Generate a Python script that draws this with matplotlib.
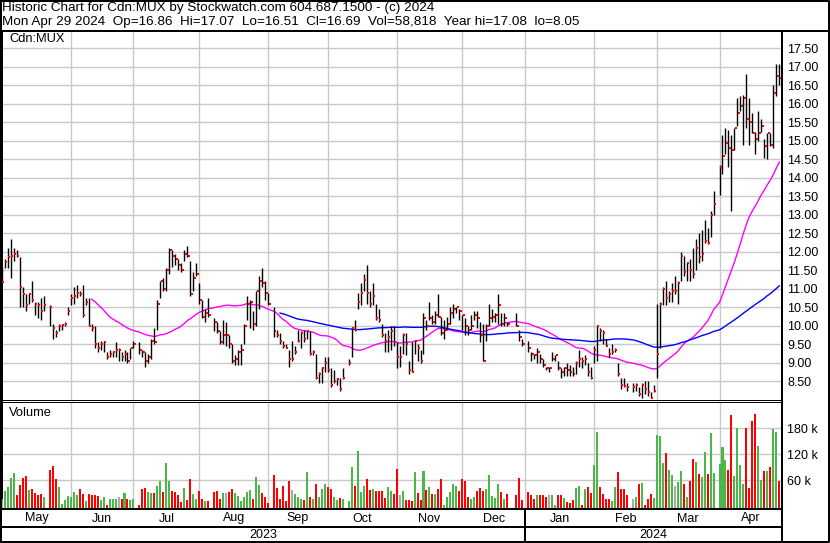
"""Stockwatch-style historic chart for Cdn:MUX (May 2023 - Apr 2024).

Daily high/low bars with red close ticks, 30- and 90-day moving averages
and a coloured volume panel. Saved as out.png (830x543 px).
"""

from __future__ import annotations

import matplotlib

matplotlib.use("Agg")

import matplotlib.pyplot as plt
import matplotlib.transforms as mtransforms
import numpy as np
import pandas as pd


OUTPUT_PNG = "out.png"

FIRST_WEEKDAY = "2023-05-01"
LAST_WEEKDAY = "2024-04-29"
HOLIDAYS = [
    "2023-05-22", "2023-07-03", "2023-08-07", "2023-09-04", "2023-10-09",
    "2023-12-25", "2023-12-26", "2024-01-01", "2024-02-19", "2024-03-29",
]

# One row per month, trading days only (May 2023 ... Apr 2024).
CLOSES = [
    11.18, 11.73, 11.85, 11.90, 11.95, 11.90, 11.05, 10.85, 10.55, 10.85, 10.70, 10.60, 10.55, 10.40, 10.55, 10.50, 9.95, 9.80, 10.00, 10.02, 10.05, 10.40,
    10.75, 10.80, 10.90, 10.85, 10.30, 10.65, 10.00, 9.95, 9.50, 9.40, 9.50, 9.55, 9.15, 9.25, 9.30, 9.35, 9.35, 9.15, 9.25, 9.05, 9.40, 9.50,
    9.35, 9.30, 9.05, 9.15, 9.60, 9.55, 10.60, 11.20, 11.00, 11.50, 12.05, 11.90, 11.80, 11.65, 11.50, 11.95, 11.90, 10.85, 11.30, 11.40,
    10.70, 10.25, 10.35, 10.30, 10.10, 9.85, 9.55, 9.75, 9.75, 9.50, 9.05, 9.10, 9.30, 9.35, 10.00, 10.60, 10.65, 10.05, 10.95, 11.20, 11.15, 10.90,
    10.60, 9.85, 9.75, 9.60, 9.45, 9.40, 9.10, 9.10, 9.30, 9.60, 9.80, 9.65, 9.85, 9.25, 9.30, 8.60, 8.70, 8.85, 9.00, 8.80,
    8.40, 8.50, 8.55, 8.30, 8.60, 9.00, 9.95, 9.90, 10.65, 10.90, 11.25, 10.90, 10.60, 10.80, 10.20, 10.15, 9.75, 9.60, 9.70, 9.85, 9.55,
    9.15, 9.15, 9.75, 9.50, 8.80, 8.75, 9.60, 9.40, 9.05, 10.20, 10.00, 10.20, 10.10, 10.30, 10.25, 9.80, 9.90, 10.05, 10.35, 10.45, 10.50, 10.40,
    10.30, 10.00, 9.90, 10.00, 10.30, 10.20, 9.75, 9.05, 10.00, 10.20, 10.25, 10.30, 10.55, 10.05, 10.20, 10.05, 10.00, 9.70, 9.50,
    9.40, 9.25, 9.20, 9.30, 9.10, 8.95, 8.85, 8.85, 9.10, 9.20, 8.85, 8.75, 8.85, 8.80, 8.75, 8.70, 9.00, 9.10, 9.05, 9.10, 8.75, 8.60,
    9.35, 10.00, 9.85, 9.80, 9.45, 9.25, 9.30, 9.35, 8.70, 8.40, 8.38, 8.35, 8.35, 8.40, 8.15, 8.40, 8.30, 8.20, 8.05, 8.25,
    9.25, 10.60, 11.00, 10.75, 10.85, 10.95, 10.95, 11.15, 11.90, 11.45, 11.70, 11.50, 11.40, 12.10, 11.85, 11.95, 12.30, 12.25, 13.00, 13.30,
    14.30, 14.60, 14.95, 14.80, 14.75, 15.35, 15.75, 15.95, 16.15, 15.60, 15.50, 15.20, 15.05, 15.20, 15.40, 14.85, 15.20, 14.90, 16.30, 16.75, 16.69,
]
HIGHS = [
    11.60, 11.80, 12.10, 12.35, 12.10, 12.05, 11.85, 11.05, 10.85, 10.90, 11.20, 10.65, 10.65, 10.75, 10.80, 10.55, 10.05, 9.90, 10.05, 10.05, 10.10, 10.50,
    10.85, 11.05, 11.10, 10.95, 11.10, 10.75, 10.75, 10.05, 10.00, 9.55, 9.60, 9.60, 9.30, 9.35, 9.30, 9.55, 9.40, 9.30, 9.35, 9.30, 9.40, 9.60,
    9.55, 9.35, 9.30, 9.25, 9.65, 9.95, 10.70, 11.20, 11.30, 11.55, 12.10, 12.05, 11.95, 11.80, 11.70, 12.05, 12.15, 11.75, 11.45, 11.70,
    11.15, 10.70, 10.45, 10.75, 10.20, 10.10, 9.85, 10.15, 10.10, 9.75, 9.50, 9.20, 9.35, 9.50, 10.05, 10.80, 10.70, 10.40, 10.95, 11.35, 11.55, 11.20,
    10.90, 10.50, 9.90, 9.80, 9.60, 9.50, 9.35, 9.60, 9.45, 9.90, 9.85, 9.90, 9.90, 9.85, 9.35, 9.25, 8.75, 8.90, 9.15, 9.15,
    8.85, 8.80, 8.60, 8.60, 8.85, 9.10, 9.95, 10.15, 10.90, 11.15, 11.40, 11.65, 10.95, 11.15, 10.60, 10.45, 10.05, 9.80, 9.90, 10.00, 10.00,
    9.55, 9.45, 9.80, 9.80, 9.05, 9.55, 9.60, 9.50, 9.35, 10.35, 10.15, 10.65, 10.30, 10.40, 10.85, 10.25, 10.15, 10.25, 10.50, 10.60, 10.50, 10.45,
    10.30, 10.20, 10.00, 10.30, 10.40, 10.40, 10.10, 10.05, 10.05, 10.60, 10.45, 10.35, 10.85, 10.35, 10.35, 10.10, 10.35, 9.90, 9.65,
    9.60, 9.30, 9.25, 9.40, 9.25, 9.10, 8.90, 8.90, 9.30, 9.20, 9.05, 8.85, 8.90, 9.00, 8.95, 8.90, 9.05, 9.35, 9.15, 9.20, 9.00, 8.90,
    9.45, 10.00, 9.95, 9.90, 9.65, 9.40, 9.50, 9.40, 9.00, 8.60, 8.60, 8.45, 8.45, 8.45, 8.35, 8.45, 8.50, 8.50, 8.20, 8.40,
    10.60, 10.65, 11.05, 11.20, 10.95, 11.15, 11.35, 11.20, 12.00, 11.90, 11.70, 11.80, 12.10, 12.35, 12.50, 12.60, 12.85, 12.65, 13.10, 13.65,
    14.35, 15.15, 15.35, 15.30, 15.15, 15.35, 16.15, 16.20, 16.25, 16.80, 16.15, 15.75, 15.25, 15.80, 15.60, 15.05, 15.20, 15.20, 16.50, 17.08, 17.07,
]
LOWS = [
    11.15, 11.55, 11.55, 11.30, 11.75, 11.85, 10.50, 10.50, 10.40, 10.60, 10.65, 10.30, 10.20, 10.15, 10.40, 10.00, 9.65, 9.70, 9.85, 9.90, 10.00, 10.30,
    10.55, 10.60, 10.75, 10.80, 10.25, 10.55, 10.00, 9.85, 9.40, 9.30, 9.35, 9.30, 9.10, 9.15, 9.15, 9.15, 9.05, 9.05, 9.05, 9.00, 9.10, 9.40,
    9.25, 9.15, 8.90, 9.00, 9.10, 9.50, 9.90, 10.75, 10.95, 10.95, 11.40, 11.60, 11.65, 11.50, 11.45, 11.75, 11.85, 10.80, 10.95, 11.35,
    10.60, 10.20, 10.10, 10.25, 9.85, 9.80, 9.50, 9.50, 9.45, 9.40, 9.00, 8.95, 8.95, 8.95, 9.50, 10.15, 9.95, 9.90, 10.00, 10.45, 11.05, 10.70,
    10.55, 9.70, 9.70, 9.50, 9.40, 9.40, 8.90, 9.05, 9.25, 9.55, 9.40, 9.55, 9.65, 9.20, 9.20, 8.55, 8.45, 8.45, 8.75, 8.75,
    8.35, 8.45, 8.40, 8.25, 8.55, 8.95, 9.15, 9.85, 10.45, 10.55, 10.95, 10.60, 10.50, 10.55, 10.15, 10.10, 9.70, 9.30, 9.30, 9.35, 9.45,
    8.85, 8.90, 9.25, 9.20, 8.70, 8.75, 9.25, 9.05, 9.00, 9.25, 9.90, 10.15, 10.05, 10.05, 10.25, 9.75, 9.65, 9.90, 10.05, 10.20, 10.35, 10.15,
    9.90, 9.75, 9.75, 9.90, 10.15, 9.95, 9.55, 9.05, 9.60, 10.00, 10.10, 10.10, 10.05, 10.00, 10.00, 10.00, 10.00, 9.60, 9.45,
    9.30, 9.05, 9.10, 9.00, 9.00, 8.90, 8.80, 8.75, 9.05, 9.05, 8.80, 8.60, 8.65, 8.65, 8.65, 8.65, 8.70, 8.90, 8.85, 8.95, 8.65, 8.55,
    9.00, 9.05, 9.60, 9.50, 9.45, 9.15, 9.25, 9.30, 8.65, 8.30, 8.35, 8.25, 8.20, 8.25, 8.10, 8.05, 8.15, 8.10, 8.05, 8.20,
    8.60, 9.40, 10.55, 10.55, 10.65, 10.65, 10.85, 10.60, 11.20, 11.35, 11.20, 11.20, 11.30, 11.50, 11.70, 11.75, 12.25, 12.20, 12.40, 13.00,
    13.55, 14.10, 14.65, 14.30, 13.10, 14.75, 15.40, 15.80, 14.90, 15.35, 14.90, 15.20, 14.65, 15.00, 15.25, 14.55, 14.50, 14.85, 14.80, 16.20, 16.51,
]
VOLUMES_K = [
    17, 35, 45, 65, 78, 26, 49, 65, 70, 38, 40, 31, 27, 28, 22, 84, 93, 63, 45, 5, 15, 24,
    22, 33, 26, 40, 29, 12, 28, 25, 26, 24, 15, 22, 3, 17, 17, 17, 22, 18, 31, 17, 15, 17,
    2, 40, 42, 32, 31, 31, 48, 58, 33, 100, 58, 35, 33, 26, 11, 42, 15, 63, 28, 17,
    35, 17, 12, 12, 33, 35, 17, 31, 31, 33, 40, 31, 24, 12, 22, 33, 38, 17, 68, 49, 31, 22,
    8, 72, 42, 17, 47, 12, 58, 38, 28, 22, 17, 15, 79, 22, 17, 52, 22, 40, 52, 45,
    40, 22, 15, 19, 17, 12, 91, 47, 128, 33, 47, 63, 38, 40, 35, 35, 35, 19, 45, 35, 28,
    86, 26, 35, 15, 15, 12, 79, 31, 15, 82, 38, 45, 28, 28, 40, 63, 3, 22, 33, 52, 47, 35,
    63, 58, 22, 17, 22, 35, 42, 35, 40, 72, 24, 19, 52, 33, 17, 28, 26, 65, 15,
    33, 26, 17, 26, 26, 26, 22, 26, 26, 3, 26, 26, 19, 10, 8, 15, 42, 47, 3, 40, 45, 31,
    95, 171, 45, 28, 17, 17, 12, 45, 79, 40, 40, 26, 17, 22, 52, 54, 3, 17, 28, 19,
    165, 162, 100, 123, 84, 72, 47, 56, 82, 52, 22, 58, 109, 102, 75, 68, 125, 75, 169, 77,
    98, 137, 107, 84, 211, 70, 181, 95, 52, 181, 42, 197, 213, 139, 61, 82, 82, 91, 178, 171, 59,
]

MONTH_LABELS = ["May", "Jun", "Jul", "Aug", "Sep", "Oct", "Nov", "Dec", "Jan", "Feb", "Mar", "Apr"]
YEAR_LABELS = ["2023", "2024"]
SHORT_MA, LONG_MA = 30, 90

HEADER_LINES = [
    "Historic Chart for Cdn:MUX by Stockwatch.com 604.687.1500 - (c) 2024",
    "Mon Apr 29 2024  Op=16.86  Hi=17.07  Lo=16.51  Cl=16.69  Vol=58,818  Year hi=17.08  lo=8.05",
]

# Layout in pixels of the 830x543 canvas.
FIG_W, FIG_H = 830, 543
PLOT_LEFT, PLOT_RIGHT = 2, 782
PRICE_TOP, PRICE_BOTTOM = 31, 400
VOLUME_TOP, VOLUME_BOTTOM = 402, 509
MONTH_ROW_BOTTOM, YEAR_ROW_BOTTOM = 527, 541

X_LIMITS = (0.03, 260.9)
PRICE_LIMITS = (7.995, 17.97)
VOLUME_LIMITS = (-6.2, 240.7)

GRID_COLOR = "#c8c8c8"
UP_COLOR, DOWN_COLOR, FLAT_COLOR = "#4db648", "#ff0000", "#aaaaaa"
PX = 0.72  # one pixel in points at dpi 100


def px_rect(left: float, top: float, right: float, bottom: float) -> list[float]:
    """Перевести прямоугольник в пикселях в координаты figure."""
    return [left / FIG_W, 1 - bottom / FIG_H, (right - left) / FIG_W, (bottom - top) / FIG_H]


def style_panel(axis: plt.Axes, top_lw: float, bottom_lw: float) -> None:
    axis.set_xlim(*X_LIMITS)
    axis.yaxis.tick_right()
    axis.tick_params(axis="y", length=0, pad=3.6, labelsize=9)
    axis.tick_params(axis="x", length=0, labelbottom=False)
    axis.grid(color=GRID_COLOR, linewidth=1.0)
    axis.set_axisbelow(True)
    axis.spines["top"].set_linewidth(top_lw)
    axis.spines["bottom"].set_linewidth(bottom_lw)
    axis.spines["left"].set_linewidth(2 * PX)
    axis.spines["right"].set_linewidth(2 * PX)


def main() -> None:
    n = len(CLOSES)
    for name, values in (("HIGHS", HIGHS), ("LOWS", LOWS), ("VOLUMES_K", VOLUMES_K)):
        if len(values) != n:
            raise ValueError(f"{name}: {len(values)} values, expected {n}")

    weekdays = pd.bdate_range(FIRST_WEEKDAY, LAST_WEEKDAY)
    trading_days = weekdays.difference(pd.to_datetime(HOLIDAYS))
    if len(trading_days) != n:
        raise ValueError(f"{len(trading_days)} trading days, {n} closes")
    x = weekdays.get_indexer(trading_days).astype(float)

    closes = pd.Series(CLOSES)
    ma_short = closes.rolling(SHORT_MA).mean()
    ma_long = closes.rolling(LONG_MA).mean()

    change = np.sign(np.round(closes.diff().fillna(0).to_numpy(), 4))
    bar_colors = [UP_COLOR if c > 0 else DOWN_COLOR if c < 0 else FLAT_COLOR for c in change]

    month_starts = pd.date_range("2023-06-01", "2024-04-01", freq="MS")
    month_edges = weekdays.searchsorted(month_starts, side="right") - 1
    bounds = [X_LIMITS[0], *month_edges, X_LIMITS[1]]
    month_centers = [(a + b) / 2 for a, b in zip(bounds[:-1], bounds[1:])]
    year_edge = weekdays.searchsorted(pd.Timestamp("2024-01-01"), side="right") - 1
    year_centers = [(X_LIMITS[0] + year_edge) / 2, (year_edge + X_LIMITS[1]) / 2]

    plt.rcParams["font.family"] = ["Liberation Sans", "DejaVu Sans"]
    fig = plt.figure(figsize=(FIG_W / 100, FIG_H / 100), dpi=100)

    # Price panel
    ax = fig.add_axes(px_rect(PLOT_LEFT, PRICE_TOP, PLOT_RIGHT, PRICE_BOTTOM))
    style_panel(ax, top_lw=2 * PX, bottom_lw=PX)
    ax.set_ylim(*PRICE_LIMITS)
    price_ticks = np.arange(8.5, 17.51, 0.5)
    ax.set_yticks(price_ticks)
    ax.set_yticklabels([f"{t:.2f}" for t in price_ticks])
    ax.set_xticks(month_edges)
    ax.plot(x, ma_short, color="#ff00ff", linewidth=1.0, zorder=2.5)
    ax.plot(x, ma_long, color="#0000ff", linewidth=1.0, zorder=2.5)
    ax.vlines(x, LOWS, HIGHS, color="black", linewidth=1.0, zorder=3)
    ax.hlines(CLOSES, x + 0.17, x + 0.83, color="red", linewidth=2 * PX, zorder=4)

    # Volume panel
    vax = fig.add_axes(px_rect(PLOT_LEFT, VOLUME_TOP, PLOT_RIGHT, VOLUME_BOTTOM))
    style_panel(vax, top_lw=PX, bottom_lw=2 * PX)
    vax.set_ylim(*VOLUME_LIMITS)
    vax.set_yticks([60, 120, 180])
    vax.set_yticklabels(["60 k", "120 k", "180 k"])
    vax.set_xticks(month_edges)
    volumes = np.asarray(VOLUMES_K, dtype=float)
    vax.bar(x, volumes - VOLUME_LIMITS[0], bottom=VOLUME_LIMITS[0], width=0.67,
            color=bar_colors, linewidth=0, zorder=3)

    # Month and year rows under the volume panel
    below = mtransforms.blended_transform_factory(vax.transData, vax.transAxes)
    row_h = VOLUME_BOTTOM - VOLUME_TOP
    month_y = -((MONTH_ROW_BOTTOM + VOLUME_BOTTOM) / 2 - VOLUME_BOTTOM + 0.5) / row_h
    year_y = -((YEAR_ROW_BOTTOM + MONTH_ROW_BOTTOM) / 2 - VOLUME_BOTTOM + 0.5) / row_h
    for center, label in zip(month_centers, MONTH_LABELS):
        vax.text(center, month_y, label, transform=below, ha="center", va="center", fontsize=9)
    for center, label in zip(year_centers, YEAR_LABELS):
        vax.text(center, year_y, label, transform=below, ha="center", va="center", fontsize=9)
    vax.plot([year_edge, year_edge], [0, -(YEAR_ROW_BOTTOM - VOLUME_BOTTOM) / row_h],
             transform=below, color="black", linewidth=2 * PX, clip_on=False)

    # Frame, separators and texts in pixel coordinates
    frame = fig.add_axes([0, 0, 1, 1], zorder=10)
    frame.set_xlim(0, FIG_W)
    frame.set_ylim(FIG_H, 0)
    frame.axis("off")
    frame.patch.set_alpha(0)
    line = dict(color="black", solid_capstyle="butt")
    frame.plot([0.5, FIG_W - 1.5, FIG_W - 1.5, 0.5, 0.5], [0.5, 0.5, FIG_H - 1.5, FIG_H - 1.5, 0.5],
               linewidth=2 * PX, **line)
    frame.plot([0, FIG_W], [PRICE_TOP, PRICE_TOP], linewidth=2 * PX, **line)
    frame.plot([PLOT_RIGHT, PLOT_RIGHT], [PRICE_TOP, FIG_H], linewidth=2 * PX, **line)
    frame.plot([0, PLOT_RIGHT], [VOLUME_BOTTOM, VOLUME_BOTTOM], linewidth=2 * PX, **line)
    frame.plot([0, PLOT_RIGHT], [MONTH_ROW_BOTTOM, MONTH_ROW_BOTTOM], linewidth=2 * PX, **line)
    frame.plot([1, 1], [0, FIG_H], linewidth=2 * PX, **line)
    for row, text in enumerate(HEADER_LINES):
        frame.text(2, 8 + 13.5 * row, text, fontsize=9.7, ha="left", va="center")
    frame.text(9, 39, "Cdn:MUX", fontsize=9.3, ha="left", va="center")
    frame.text(9, 413, "Volume", fontsize=9.3, ha="left", va="center")

    fig.savefig(OUTPUT_PNG, dpi=100)
    plt.close(fig)


if __name__ == "__main__":
    main()
